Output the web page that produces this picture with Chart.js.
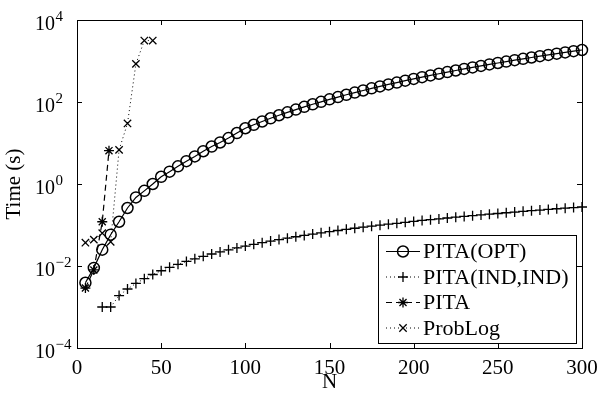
<!DOCTYPE html>
<html>
<head>
<meta charset="utf-8">
<script src="https://cdn.jsdelivr.net/npm/chart.js@4.4.1/dist/chart.umd.min.js"></script>
<style>
  html, body { margin: 0; padding: 0; background: #fff; }
</style>
</head>
<body>
<canvas id="chart" width="600" height="399"></canvas>
<script>
const FONT = "'Liberation Serif', 'Times New Roman', serif";

// N values and run times (s)
const nOpt = [5,10,15,20,25,30,35,40,45,50,55,60,65,70,75,80,85,90,95,100,
  105,110,115,120,125,130,135,140,145,150,155,160,165,170,175,180,185,190,195,200,
  205,210,215,220,225,230,235,240,245,250,255,260,265,270,275,280,285,290,295,300];
const timeOpt = [0.0039,0.009,0.025,0.058,0.12,0.26,0.47,0.68,1.0,1.5,2.0,2.7,3.6,4.7,6.3,8.2,10.3,13.2,17.5,22.9,
  27.8,33.5,40.1,47.5,55.9,65.4,76.1,88,101,116,132,150,170,191,215,240,268,298,331,366,
  404,445,489,536,587,641,698,760,825,895,968,1046,1129,1217,1310,1408,1511,1620,1734,1855];

const nInd = [15,20,25,30,35,40,45,50,55,60,65,70,75,80,85,90,95,100,
  105,110,115,120,125,130,135,140,145,150,155,160,165,170,175,180,185,190,195,200,
  205,210,215,220,225,230,235,240,245,250,255,260,265,270,275,280,285,290,295,300];
const timeInd = [0.001,0.001,0.0019,0.00275,0.00375,0.0049,0.0062,0.00765,0.0093,0.011,0.0129,0.015,0.0172,0.0196,0.0221,0.0248,0.0276,0.0306,
  0.0337,0.037,0.0405,0.0441,0.0478,0.0517,0.0558,0.06,0.0643,0.0689,0.0735,0.0783,0.0833,0.0884,0.0937,0.0991,0.105,0.11,0.116,0.122,
  0.129,0.135,0.141,0.148,0.155,0.162,0.169,0.176,0.184,0.191,0.199,0.207,0.215,0.223,0.231,0.24,0.249,0.257,0.266,0.275];

const nPita = [5,10,15,19];
const timePita = [0.0029,0.008,0.12,6.5];

const nProb = [5,10,15,20,25,30,35,40,45];
const timeProb = [0.037,0.044,0.063,0.039,6.8,30,850,3150,3150];

const xTicks = [0,50,100,150,200,250,300];
const yTicks = [1e-4,1e-2,1,1e2,1e4];
const yExp = ['\u22124','\u22122','0','2','4'];

const labels = ['PITA(OPT)', 'PITA(IND,IND)', 'PITA', 'ProbLog'];

const pts = (xs, ys) => xs.map((x, i) => ({ x, y: ys[i] }));

const base = {
  borderColor: '#000',
  pointBorderColor: '#000',
  pointBackgroundColor: 'rgba(0,0,0,0)',
  borderWidth: 1.2,
  pointBorderWidth: 1.3,
  tension: 0,
  clip: false
};

const datasets = [
  { ...base, label: labels[0], data: pts(nOpt, timeOpt), pointStyle: 'circle', pointRadius: 5.5, pointBorderWidth: 1.5, order: 4 },
  { ...base, label: labels[1], data: pts(nInd, timeInd), pointStyle: 'cross', pointRadius: 5, borderDash: [1, 3], borderWidth: 1, order: 3 },
  { ...base, label: labels[2], data: pts(nPita, timePita), pointStyle: 'star', pointRadius: 5, borderDash: [6, 4], order: 2 },
  { ...base, label: labels[3], data: pts(nProb, timeProb), pointStyle: 'crossRot', pointRadius: 5.2, borderDash: [1, 3], borderWidth: 1, order: 1 }
];

// box, inward ticks and 10^k labels
const frame = {
  id: 'frame',
  beforeDatasetsDraw(chart) {
    const { ctx, chartArea: a, scales: { x, y } } = chart;
    ctx.save();
    ctx.strokeStyle = '#000';
    ctx.lineWidth = 1;
    ctx.beginPath();
    for (const t of x.ticks) {
      const px = Math.round(x.getPixelForValue(t.value)) + 0.5;
      ctx.moveTo(px, a.bottom); ctx.lineTo(px, a.bottom - 5);
      ctx.moveTo(px, a.top); ctx.lineTo(px, a.top + 5);
    }
    for (const t of y.ticks) {
      const py = Math.round(y.getPixelForValue(t.value)) + 0.5;
      ctx.moveTo(a.left, py); ctx.lineTo(a.left + 5, py);
      ctx.moveTo(a.right, py); ctx.lineTo(a.right - 5, py);
    }
    ctx.stroke();
    ctx.strokeRect(Math.round(a.left) + 0.5, Math.round(a.top) + 0.5,
      Math.round(a.right - a.left), Math.round(a.bottom - a.top));

    ctx.fillStyle = '#000';
    ctx.textAlign = 'left';
    ctx.textBaseline = 'alphabetic';
    y.ticks.forEach((t, i) => {
      const py = y.getPixelForValue(t.value);
      ctx.font = '20px ' + FONT;
      ctx.fillText('10', 35, py + 9.5);
      ctx.font = '15px ' + FONT;
      ctx.fillText(yExp[i], 55.5, py + 1);
    });
    ctx.restore();
  },
  afterDatasetsDraw(chart) {
    // legend: line sample with marker, like the original
    const { ctx } = chart;
    const bx = 378, by = 235, bw = 198, bh = 108;
    ctx.save();
    ctx.fillStyle = '#fff';
    ctx.fillRect(bx, by, bw, bh);
    ctx.strokeStyle = '#000';
    ctx.lineWidth = 1;
    ctx.strokeRect(bx + 0.5, by + 0.5, bw, bh);
    chart.data.datasets.forEach((ds, i) => {
      const cy = 251.5 + i * 25.5;
      ctx.strokeStyle = '#000';
      ctx.lineWidth = ds.borderWidth;
      ctx.setLineDash(ds.borderDash || []);
      ctx.beginPath();
      ctx.moveTo(386, cy); ctx.lineTo(420, cy);
      ctx.stroke();
      ctx.setLineDash([]);
      ctx.fillStyle = 'rgba(0,0,0,0)';
      ctx.lineWidth = ds.pointBorderWidth;
      Chart.helpers.drawPoint(ctx, { pointStyle: ds.pointStyle, radius: ds.pointRadius, rotation: 0, borderWidth: ds.pointBorderWidth }, 403, cy);
      ctx.fillStyle = '#000';
      ctx.font = '22px ' + FONT;
      ctx.textBaseline = 'middle';
      ctx.fillText(ds.label, 423, cy + 1);
    });
    ctx.restore();
  }
};

new Chart(document.getElementById('chart'), {
  type: 'line',
  data: { datasets },
  plugins: [frame],
  options: {
    responsive: false,
    animation: false,
    devicePixelRatio: 1,
    layout: { padding: { left: 0, right: 18, top: 20, bottom: 0 } },
    plugins: { legend: { display: false }, tooltip: { enabled: false } },
    scales: {
      x: {
        type: 'linear',
        min: 0,
        max: 300,
        afterBuildTicks: s => { s.ticks = xTicks.map(v => ({ value: v })); },
        afterFit: s => { s.height = 51; },
        grid: { display: false },
        border: { display: false },
        ticks: { color: '#000', font: { family: FONT, size: 21 }, padding: 0, maxRotation: 0 },
        title: { display: true, text: 'N', color: '#000', font: { family: FONT, size: 21 }, padding: { top: 0, bottom: 4 } }
      },
      y: {
        type: 'logarithmic',
        min: 1e-4,
        max: 1e4,
        afterBuildTicks: s => { s.ticks = yTicks.map(v => ({ value: v })); },
        afterFit: s => { s.width = 77; },
        grid: { display: false },
        border: { display: false },
        ticks: { display: false },
        title: { display: true, text: 'Time (s)', color: '#000', font: { family: FONT, size: 21 }, padding: { top: 2, bottom: 0 } }
      }
    }
  }
});
</script>
</body>
</html>
